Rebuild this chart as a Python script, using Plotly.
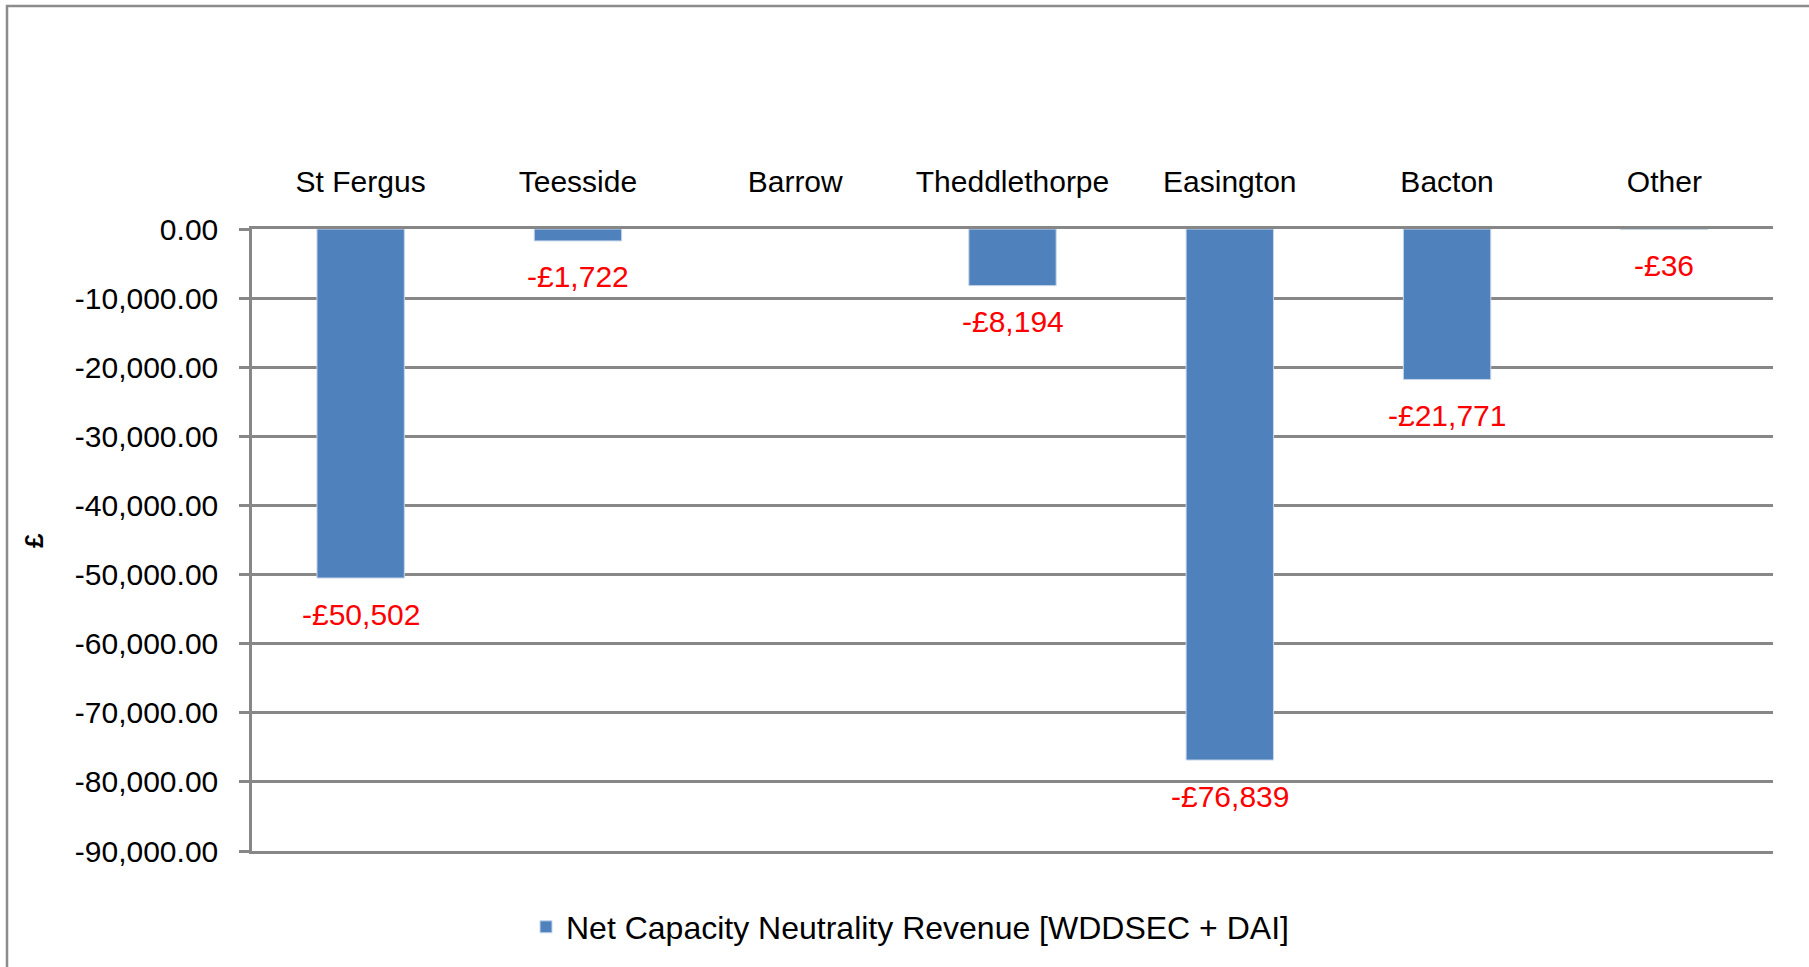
import plotly.graph_objects as go

categories = ["St Fergus", "Teesside", "Barrow", "Theddlethorpe", "Easington", "Bacton", "Other"]
values = [-50502, -1722, 0, -8194, -76839, -21771, -36]
label_flags = [True, True, False, True, True, True, True]
series_name = "Net Capacity Neutrality Revenue [WDDSEC + DAI]"
y_tickvals = [0, -10000, -20000, -30000, -40000, -50000, -60000, -70000, -80000, -90000]
y_ticktext = ["0.00", "-10,000.00", "-20,000.00", "-30,000.00", "-40,000.00",
              "-50,000.00", "-60,000.00", "-70,000.00", "-80,000.00", "-90,000.00"]

W, H = 1809, 967
ML, MR, MT, MB = 252, 36, 229, 116
PW, PH = W - ML - MR, H - MT - MB

GRID = "#878787"
BAR = "#4F81BD"
FONT = "Liberation Sans, Arial, Helvetica, sans-serif"

fig = go.Figure()
fig.add_trace(go.Bar(
    x=categories, y=values, name=series_name,
    marker=dict(color=BAR, line=dict(color="#C6D6EA",
                                      width=[1 if v != 0 else 0 for v in values])),
    showlegend=True,
))

for c, v, f in zip(categories, values, label_flags):
    if not f:
        continue
    fig.add_annotation(
        x=c, y=v, xref="x", yref="y",
        text=f"-£{abs(v):,.0f}", showarrow=False,
        yanchor="middle", yshift=-36,
        font=dict(color="#FF0000", size=30, family=FONT),
    )

fig.add_annotation(
    x=(34 - ML) / PW, y=(H - MB - 541) / PH, xref="paper", yref="paper",
    xanchor="center", yanchor="middle",
    text="<b>£</b>", showarrow=False, textangle=-90,
    font=dict(color="#000000", size=26, family=FONT),
)

# outer border
fig.add_shape(
    type="rect", xref="paper", yref="paper",
    x0=(7 - ML) / PW, x1=(W + 20 - ML) / PW,
    y0=(H - MB - (H + 20)) / PH, y1=(H - MB - 6) / PH,
    line=dict(color="#8C8C8C", width=2.5), fillcolor="rgba(0,0,0,0)", layer="below",
)

fig.update_layout(
    width=W, height=H,
    margin=dict(l=ML, r=MR, t=MT, b=MB, pad=0),
    paper_bgcolor="white", plot_bgcolor="white",
    bargap=0.598,
    font=dict(family=FONT, size=30, color="#000000"),
    showlegend=True,
    legend=dict(
        orientation="h", x=(910 - ML) / PW, xanchor="center",
        y=(H - MB - 927) / PH, yanchor="middle",
        font=dict(family=FONT, size=32, color="#000000"),
        bgcolor="rgba(0,0,0,0)",
    ),
    xaxis=dict(
        side="top", showline=True, mirror=True, linecolor=GRID, linewidth=2.5,
        showgrid=False, ticks="", ticklabelstandoff=22,
        tickfont=dict(size=30, family=FONT, color="#000000"),
        fixedrange=True,
    ),
    yaxis=dict(
        range=[-90000, 0], tickvals=y_tickvals, ticktext=y_ticktext,
        showgrid=True, gridcolor=GRID, gridwidth=2.5,
        showline=True, linecolor=GRID, linewidth=2.5,
        ticks="outside", ticklen=10, tickcolor=GRID, tickwidth=2.5,
        ticklabelstandoff=15, zeroline=False,
        tickfont=dict(size=30, family=FONT, color="#000000"),
        fixedrange=True,
    ),
)

fig.write_html(
    "out.html",
    config={"displayModeBar": False},
    post_script="document.body.style.margin='0';document.body.style.overflow='hidden';",
)
